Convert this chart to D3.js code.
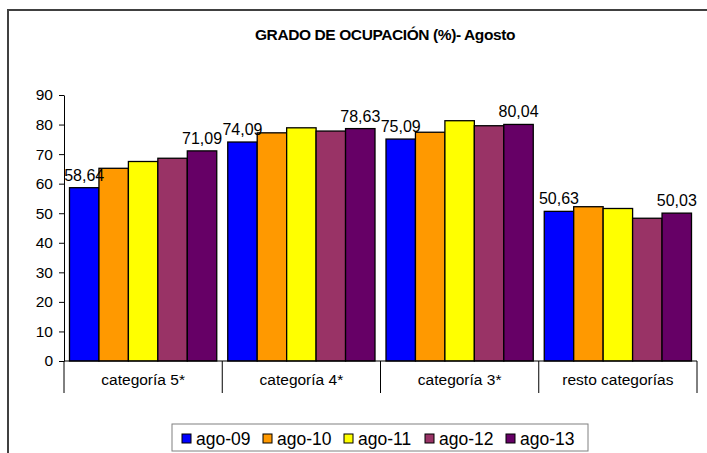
<!DOCTYPE html>
<html>
<head>
<meta charset="utf-8">
<script src="https://cdn.jsdelivr.net/npm/d3@7"></script>
<style>
  html, body { margin: 0; padding: 0; background: #fff; }
  svg { display: block; font-family: Arial, "Liberation Sans", sans-serif; }
</style>
</head>
<body>
<svg id="chart" width="707" height="453"></svg>
<script>
// Hotel occupancy (%) in August, by category and year
const categories = ["categoría 5*", "categoría 4*", "categoría 3*", "resto categorías"];
const seriesNames = ["ago-09", "ago-10", "ago-11", "ago-12", "ago-13"];
const ago09 = [58.64, 74.09, 75.09, 50.63];
const ago10 = [65.2, 77.2, 77.4, 52.2];
const ago11 = [67.5, 78.9, 81.3, 51.6];
const ago12 = [68.6, 77.8, 79.6, 48.3];
const ago13 = [71.09, 78.63, 80.04, 50.03];
const seriesValues = [ago09, ago10, ago11, ago12, ago13];
const seriesColors = ["#0000ff", "#ff9900", "#ffff00", "#993366", "#660066"];
const yTicks = [0, 10, 20, 30, 40, 50, 60, 70, 80, 90];
// which bars carry a value label: first and last year in every category
const labelled = [0, 4];

const svg = d3.select("#chart");
const W = 707, H = 453;
const plot = { left: 64, right: 697, top: 95, bottom: 361 };

// outer chart frame (extends past the visible area on the right and bottom)
svg.append("rect")
  .attr("x", 8).attr("y", 10)
  .attr("width", W + 20).attr("height", H + 20)
  .attr("fill", "#fff").attr("stroke", "#404040").attr("stroke-width", 2);

// title
svg.append("text")
  .attr("x", 385).attr("y", 40)
  .attr("text-anchor", "middle")
  .attr("font-size", 15.5).attr("font-weight", "bold")
  .attr("letter-spacing", -0.4)
  .text("GRADO DE OCUPACIÓN (%)- Agosto");

const x = d3.scaleBand().domain(categories).range([plot.left, plot.right]).padding(0);
const groupGap = 11;
const xs = d3.scaleBand().domain(seriesNames)
  .range([groupGap / 2, x.bandwidth() - groupGap / 2]).padding(0);
const y = d3.scaleLinear().domain([0, 90]).range([plot.bottom, plot.top]);

// y axis
const yAxis = d3.axisLeft(y).tickValues(yTicks).tickSize(5).tickSizeOuter(0).tickPadding(6);
const gy = svg.append("g").attr("transform", `translate(${plot.left},0)`).call(yAxis);
gy.select(".domain").attr("stroke", "#000");
gy.selectAll(".tick line").attr("stroke", "#000");
gy.selectAll(".tick text").attr("font-size", 15.5).attr("fill", "#000")
  .attr("font-family", "Arial, 'Liberation Sans', sans-serif");

// bars
const rows = [];
categories.forEach((c, ci) => {
  seriesNames.forEach((s, si) => {
    rows.push({ cat: c, series: s, si: si, value: seriesValues[si][ci] });
  });
});

svg.append("g").selectAll("rect").data(rows).join("rect")
  .attr("x", d => x(d.cat) + xs(d.series))
  .attr("y", d => y(d.value))
  .attr("width", xs.bandwidth())
  .attr("height", d => y(0) - y(d.value))
  .attr("fill", d => seriesColors[d.si])
  .attr("stroke", "#000").attr("stroke-width", 1.3);

// value labels
svg.append("g").selectAll("text").data(rows.filter(d => labelled.includes(d.si))).join("text")
  .attr("x", d => x(d.cat) + xs(d.series) + xs.bandwidth() / 2)
  .attr("y", d => y(d.value) - 7)
  .attr("text-anchor", "middle")
  .attr("font-size", 16)
  .text(d => d3.format(".2f")(d.value).replace(".", ","));

// x axis: line at zero with tick marks between categories
const xAxisG = svg.append("g");
xAxisG.append("line")
  .attr("x1", plot.left).attr("x2", plot.right)
  .attr("y1", y(0)).attr("y2", y(0))
  .attr("stroke", "#000").attr("stroke-width", 1);
const boundaries = categories.map(c => x(c)).concat([x.range()[1]]);
xAxisG.selectAll("line.tick").data(boundaries).join("line")
  .attr("class", "tick")
  .attr("x1", d => d).attr("x2", d => d)
  .attr("y1", y(0)).attr("y2", y(0) + 32)
  .attr("stroke", "#000").attr("stroke-width", 1);
xAxisG.selectAll("text").data(categories).join("text")
  .attr("x", d => x(d) + x.bandwidth() / 2)
  .attr("y", y(0) + 24)
  .attr("text-anchor", "middle")
  .attr("font-size", 15.5)
  .text(d => d);

// legend
const legend = svg.append("g");
legend.append("rect")
  .attr("x", 172).attr("y", 424)
  .attr("width", 416).attr("height", 27)
  .attr("fill", "#fff").attr("stroke", "#808080").attr("stroke-width", 1);
const items = legend.selectAll("g.item").data(seriesNames).join("g")
  .attr("class", "item")
  .attr("transform", (d, i) => `translate(${182 + i * 81},439)`);
items.append("rect")
  .attr("x", 0).attr("y", -5).attr("width", 9).attr("height", 9)
  .attr("fill", (d, i) => seriesColors[i])
  .attr("stroke", "#000").attr("stroke-width", 1);
items.append("text")
  .attr("x", 14).attr("y", 6)
  .attr("font-size", 17.5)
  .text(d => d);
</script>
</body>
</html>
